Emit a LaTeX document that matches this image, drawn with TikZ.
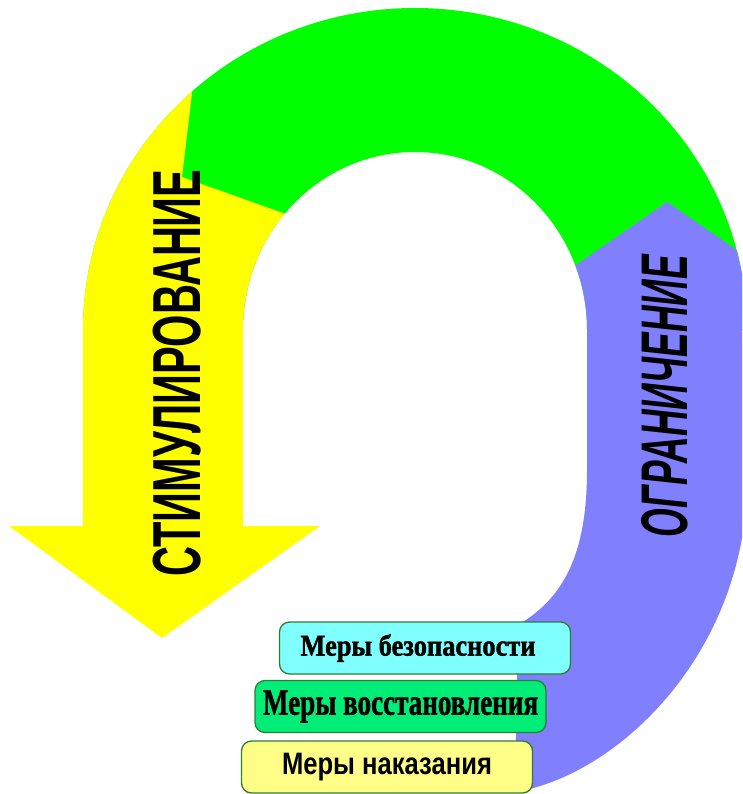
\documentclass[tikz,border=0pt]{standalone}
\usepackage{fontspec}
\usepackage{graphicx}
\setmainfont{Liberation Serif}
\newfontfamily\artfont{Liberation Sans}
\newfontfamily\heavyserif{Liberation Serif}[BoldFeatures={FakeBold=1.5}]
\newcommand{\fitto}[2]{\resizebox{#1}{\height}{#2}}
\definecolor{ringgreen}{HTML}{00FF00}
\definecolor{stimyellow}{HTML}{FFFF00}
\definecolor{limitblue}{HTML}{8080FF}
\definecolor{safecyan}{HTML}{80FFFF}
\definecolor{restgreen}{HTML}{00EE77}
\definecolor{punyellow}{HTML}{FFFF88}
\definecolor{boxline}{HTML}{2E7D32}
\begin{document}
\begin{tikzpicture}[x=1pt,y=-1pt,
    ring/.style={insert path={(83,330) arc[start angle=180, end angle=360, x radius=332, y radius=322]
      -- (587,330) arc[start angle=360, end angle=180, x radius=172, y radius=178] -- cycle}},
    measure/.style={draw=boxline, line width=1.3pt, rounded corners=10pt,
      minimum width=291pt, minimum height=52pt, inner sep=0pt}]
  \clip (0,0) rectangle (742,794);
  % top of the ring
  \fill[ringgreen, ring];
  % left part and arrow
  \begin{scope}
    \clip (0,0) -- (203,0) -- (193,85) -- (182,177) -- (280,212) -- (420,262) -- (420,794) -- (0,794) -- cycle;
    \fill[stimyellow, ring];
    \fill[stimyellow] (83,329) -- (83,526) -- (9,526) -- (162,638) -- (320,526) -- (243,526) -- (243,329) -- cycle;
  \end{scope}
  % right part
  \begin{scope}
    \clip (530,297) -- (667,202) -- (760,266) -- (760,800) -- (500,800) -- (500,297) -- cycle;
    \fill[limitblue, ring];
    \fill[limitblue] (587,329) -- (587,470) .. controls (587,560) and (560,600) .. (518,625)
      -- (515,792) .. controls (620,775) and (747,650) .. (747,480) -- (747,329) -- cycle;
  \end{scope}
  \node[rotate=90] (stim) at (177,373)
    {\artfont\bfseries\fontsize{68}{68}\selectfont\fitto{407pt}{СТИМУЛИРОВАНИЕ}};
  \node[rotate=90] (limit) at (665,396)
    {\artfont\bfseries\itshape\fontsize{66}{66}\selectfont\fitto{282pt}{ОГРАНИЧЕНИЕ}};
  \node[measure, fill=safecyan] (safety) at (425,648)
    {\heavyserif\bfseries\fontsize{30}{30}\selectfont\kern-14pt\fitto{235pt}{Меры безопасности}};
  \node[measure, fill=restgreen] (restore) at (400.5,706.5)
    {\heavyserif\bfseries\fontsize{37}{37}\selectfont\fitto{275pt}{Меры восстановления}};
  \node[measure, fill=punyellow] (punish) at (387,767)
    {\artfont\bfseries\fontsize{31}{31}\selectfont\fitto{210pt}{Меры наказания}};
\end{tikzpicture}
\end{document}
